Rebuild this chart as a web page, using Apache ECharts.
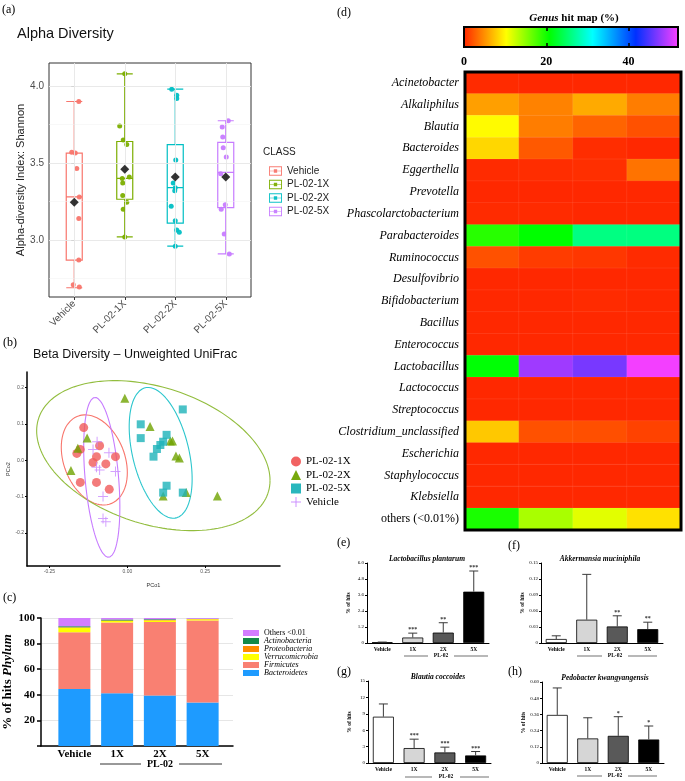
<!DOCTYPE html>
<html><head><meta charset="utf-8">
<script src="https://cdn.jsdelivr.net/npm/echarts@6.0.0/dist/echarts.min.js"></script>
<style>html,body{margin:0;padding:0;background:#fff;}#chart{width:685px;height:781px;}</style>
</head><body><div id="chart"></div>
<script>
// ================= DATA =================
// (a) Alpha diversity (Shannon)
const alphaClasses = ['Vehicle', 'PL-02-1X', 'PL-02-2X', 'PL-02-5X'];
const alphaBoxStats = [          // [lower whisker, Q1, median, Q3, upper whisker]
  [2.69, 2.87, 3.28, 3.565, 3.90],
  [3.02, 3.265, 3.40, 3.64, 4.08],
  [2.96, 3.11, 3.34, 3.62, 3.98],
  [2.91, 3.21, 3.44, 3.635, 3.775]
];
const alphaMeans = [3.245, 3.46, 3.41, 3.41];
const alphaPointsVehicle = [3.90, 3.57, 3.565, 3.465, 3.28, 3.14, 2.87, 2.71, 2.695];
const alphaPoints1X = [4.08, 3.74, 3.65, 3.62, 3.41, 3.40, 3.37, 3.29, 3.245, 3.20, 3.02];
const alphaPoints2X = [3.98, 3.94, 3.92, 3.52, 3.37, 3.34, 3.32, 3.22, 3.125, 3.065, 3.05, 2.96];
const alphaPoints5X = [3.775, 3.735, 3.67, 3.60, 3.54, 3.43, 3.23, 3.20, 3.04, 2.91];
const alphaJitterVehicle = [0.09, -0.05, 0.02, 0.05, 0.10, 0.09, 0.09, -0.02, 0.10];
const alphaJitter1X = [0.0, -0.10, -0.03, 0.04, 0.09, -0.05, -0.04, -0.04, 0.04, -0.03, 0.0];
const alphaJitter2X = [-0.07, 0.03, 0.03, 0.01, -0.04, 0.0, -0.01, -0.08, 0.0, 0.03, 0.08, 0.0];
const alphaJitter5X = [0.05, -0.07, -0.06, -0.05, 0.01, -0.10, -0.01, -0.09, -0.03, 0.07];
const alphaYTicks = [3.0, 3.5, 4.0];
const alphaYMinor = [2.75, 3.25, 3.75];

// (b) Beta diversity PCoA (PCo1, PCo2)
const betaGroups = ['PL-02-1X', 'PL-02-2X', 'PL-02-5X', 'Vehicle'];
const beta1X = [[-0.140, 0.090], [-0.151, 0.030], [-0.162, 0.019], [-0.151, -0.061], [-0.110, -0.006], [-0.099, 0.010], [-0.089, 0.040], [-0.099, -0.061], [-0.069, -0.010], [-0.058, -0.080], [-0.038, 0.010]];
const beta2X = [[-0.008, 0.171], [-0.129, 0.061], [-0.159, 0.033], [-0.181, -0.028], [0.073, 0.093], [0.138, 0.053], [0.145, 0.053], [0.156, 0.012], [0.167, 0.006], [0.115, -0.098], [0.189, -0.089], [0.289, -0.098]];
const beta5X = [[0.178, 0.140], [0.043, 0.099], [0.043, 0.061], [0.126, 0.070], [0.115, 0.051], [0.106, 0.042], [0.095, 0.031], [0.084, 0.010], [0.126, -0.070], [0.115, -0.089], [0.178, -0.089]];
const betaVehicle = [[-0.097, 0.051], [-0.110, 0.030], [-0.059, 0.021], [-0.099, -0.019], [-0.089, -0.027], [-0.038, -0.031], [-0.078, -0.100], [-0.078, -0.160], [-0.069, -0.169]];
// confidence ellipses: centre, half-extents, correlation
const betaEllipseCx = [-0.106, 0.0835, 0.107, -0.082];
const betaEllipseCy = [0.001, 0.0128, 0.0205, -0.047];
const betaEllipseRx = [0.106, 0.3745, 0.101, 0.058];
const betaEllipseRy = [0.124, 0.2064, 0.180, 0.220];
const betaEllipseCorr = [-0.28, -0.33, -0.40, -0.37];
const betaXTicks = [-0.25, 0, 0.25];
const betaYTicks = [-0.2, -0.1, 0, 0.1, 0.2];

// (c) Phylum composition (% of hits)
const phylumGroups = ['Vehicle', '1X', '2X', '5X'];
const phylumNames = ['Bacteroidetes', 'Firmicutes', 'Verrucomicrobia', 'Proteobacteria', 'Actinobacteria', 'Others <0.01'];
const phylumBacteroidetes = [44.5, 41.3, 39.4, 34.0];
const phylumFirmicutes = [44.3, 55.2, 57.4, 64.0];
const phylumVerrucomicrobia = [3.5, 1.2, 1.3, 1.0];
const phylumProteobacteria = [0.4, 0.3, 0.3, 0.3];
const phylumActinobacteria = [0.8, 0.8, 0.6, 0.2];
const phylumOthers = [6.5, 1.2, 1.0, 0.5];

// (d) Genus hit map (%)
const genusColumns = ['Vehicle', '1X', '2X', '5X'];
const genera = ['Acinetobacter', 'Alkaliphilus', 'Blautia', 'Bacteroides', 'Eggerthella', 'Prevotella', 'Phascolarctobacterium', 'Parabacteroides', 'Ruminococcus', 'Desulfovibrio', 'Bifidobacterium', 'Bacillus', 'Enterococcus', 'Lactobacillus', 'Lactococcus', 'Streptococcus', 'Clostridium_unclassified', 'Escherichia', 'Staphylococcus', 'Klebsiella', 'others (<0.01%)'];
const genusVehicle = [0.4, 5.9, 10.2, 8.5, 0.4, 0.3, 0.4, 19.2, 2.2, 0.3, 0.3, 0.3, 0.3, 21.0, 0.3, 0.3, 7.8, 0.3, 0.3, 0.3, 19.8];
const genus1X = [0.3, 4.5, 4.3, 2.6, 0.5, 0.3, 0.4, 20.8, 1.2, 0.3, 0.3, 0.3, 0.3, 48.1, 0.3, 0.3, 2.2, 0.3, 0.3, 0.3, 13.9];
const genus2X = [0.3, 6.4, 3.1, 0.5, 0.6, 0.3, 0.3, 26.1, 1.0, 0.3, 0.4, 0.3, 0.3, 46.5, 0.3, 0.3, 2.1, 0.3, 0.3, 0.3, 11.6];
const genus5X = [0.3, 4.3, 2.2, 0.3, 3.8, 0.3, 0.3, 26.0, 0.4, 0.3, 0.3, 0.3, 0.3, 51.5, 0.3, 0.3, 1.5, 0.3, 0.3, 0.3, 9.0];
const heatMin = 0, heatMax = 52;
const heatTicks = [0, 20, 40];

// (e)-(h) species % of hits (mean, SD) and significance
const speciesGroups = ['Vehicle', '1X', '2X', '5X'];
const lpMean = [0.05, 0.41, 0.78, 3.85];
const lpErr = [0.02, 0.33, 0.74, 1.55];
const lpStars = ['', '***', '**', '***'];
const amMean = [0.0075, 0.0437, 0.031, 0.026];
const amErr = [0.006, 0.085, 0.020, 0.013];
const amStars = ['', '', '**', '**'];
const bcMean = [8.47, 2.73, 1.93, 1.38];
const bcErr = [2.33, 1.63, 0.97, 0.72];
const bcStars = ['', '***', '***', '***'];
const pkMean = [0.356, 0.182, 0.201, 0.174];
const pkErr = [0.20, 0.153, 0.142, 0.10];
const pkStars = ['', '', '*', '*'];

// ================= STYLE =================
const SANS = "'Liberation Sans', Arial, sans-serif";
const SERIF = "'Liberation Serif', 'Times New Roman', serif";
const alphaColors = ['#F8766D', '#7CAE00', '#00BFC4', '#C77CFF'];
const betaColors = ['#F05A5A', '#6FA300', '#1DB3B9', '#C98BFF'];
const ellipseColors = ['#F8766D', '#92BD3E', '#2CC6CD', '#C77CFF'];
const phylumColors = ['#1E9BFF', '#F98072', '#FFFF00', '#FF8C00', '#138A4A', '#D37DFF'];
const heatColors = ['#ff2200', '#ffff00', '#00ff00', '#00ffff', '#0030ff', '#ff40ff'];
const barFills = ['#ffffff', '#d6d6d6', '#595959', '#000000'];
const boxIcon = 'path://M0,0H14V1H0Z M0,9H14V10H0Z M0,0H1V10H0Z M13,0H14V10H13Z M0,4.6H14V5.4H0Z M5.2,3.2H8.8V6.8H5.2Z';
const crossIcon = 'path://M4.5,0H5.5V4.5H10V5.5H5.5V10H4.5V5.5H0V4.5H4.5Z';

// ================= BUILD =================
const alphaPoints = [alphaPointsVehicle, alphaPoints1X, alphaPoints2X, alphaPoints5X];
const alphaJitter = [alphaJitterVehicle, alphaJitter1X, alphaJitter2X, alphaJitter5X];
const betaData = [beta1X, beta2X, beta5X, betaVehicle];
const betaSymbols = ['circle', 'triangle', 'rect', crossIcon];
const betaSizes = [9, 9, 8, 10];
const phylumValues = [phylumBacteroidetes, phylumFirmicutes, phylumVerrucomicrobia, phylumProteobacteria, phylumActinobacteria, phylumOthers];
const genusCols = [genusVehicle, genus1X, genus2X, genus5X];

const grids = [
  {left: 49, top: 63, width: 202, height: 234, show: true, borderColor: '#333', borderWidth: 1, backgroundColor: '#fff'}, // 0 (a)
  {left: 27, top: 372, width: 253, height: 194},   // 1 (b)
  {left: 53, top: 618, width: 171, height: 128},   // 2 (c) bars
  {left: 41, top: 618, width: 192, height: 128},   // 3 (c) axes
  {left: 465, top: 72, width: 216, height: 458},   // 4 (d) heatmap
  {left: 464, top: 27, width: 214, height: 20},    // 5 (d) colour bar
  {left: 367, top: 563, width: 122, height: 80},   // 6 (e)
  {left: 541, top: 563, width: 122, height: 80},   // 7 (f)
  {left: 368, top: 681, width: 123, height: 82},   // 8 (g)
  {left: 542, top: 682, width: 122, height: 81}    // 9 (h)
];

const xAxes = [];
const yAxes = [];
const AX = {};
const AY = {};
// (a)
AX.aCat = xAxes.length;
xAxes.push({gridIndex: 0, type: 'category', data: alphaClasses, axisLine: {show: false},
  axisTick: {show: true, alignWithLabel: true, length: 3, lineStyle: {color: '#333'}},
  axisLabel: {interval: 0, rotate: 45, color: '#4d4d4d', fontSize: 10, fontFamily: SANS, margin: 5}, splitLine: {show: false}});
AX.aJit = xAxes.length;
xAxes.push({gridIndex: 0, type: 'value', min: -0.5, max: 3.5, show: false});
AY.a = yAxes.length;
yAxes.push({gridIndex: 0, type: 'value', min: 2.63, max: 4.15, axisLine: {show: false},
  axisTick: {show: true, customValues: alphaYTicks, length: 3, lineStyle: {color: '#333'}},
  axisLabel: {customValues: alphaYTicks, formatter: v => v.toFixed(1), color: '#4d4d4d', fontSize: 10, fontFamily: SANS, margin: 5},
  splitLine: {show: false}, name: 'Alpha-diversity Index: Shannon', nameLocation: 'middle', nameGap: 23,
  nameTextStyle: {fontSize: 11, color: '#222', fontFamily: SANS}});
// (b)
AX.b = xAxes.length;
xAxes.push({gridIndex: 1, type: 'value', min: -0.322, max: 0.49, axisLine: {onZero: false, lineStyle: {color: '#000', width: 1.5}},
  axisTick: {customValues: betaXTicks, length: 2, lineStyle: {color: '#000'}},
  axisLabel: {customValues: betaXTicks, formatter: v => v.toFixed(2), fontSize: 5, color: '#555', margin: 3, fontFamily: SANS},
  splitLine: {show: false}, name: 'PCo1', nameLocation: 'middle', nameGap: 16, nameTextStyle: {fontSize: 5.5, color: '#333', fontFamily: SANS}});
AY.b = yAxes.length;
yAxes.push({gridIndex: 1, type: 'value', min: -0.291, max: 0.243, axisLine: {onZero: false, lineStyle: {color: '#000', width: 1.5}},
  axisTick: {customValues: betaYTicks, length: 2, lineStyle: {color: '#000'}},
  axisLabel: {customValues: betaYTicks, formatter: v => v.toFixed(1), fontSize: 5, color: '#555', margin: 3, fontFamily: SANS},
  splitLine: {show: false}, name: 'PCo2', nameLocation: 'middle', nameGap: 13, nameTextStyle: {fontSize: 5.5, color: '#333', fontFamily: SANS}});
// (c)
AX.cBars = xAxes.length;
xAxes.push({gridIndex: 2, type: 'category', data: phylumGroups, axisLine: {show: false}, axisTick: {show: false},
  axisLabel: {interval: 0, fontFamily: SERIF, fontWeight: 'bold', fontSize: 11, color: '#000', margin: 3}});
AX.cFrame = xAxes.length;
xAxes.push({gridIndex: 3, type: 'value', min: 0, max: 1, axisLine: {show: true, onZero: false, lineStyle: {color: '#000', width: 1.5}},
  axisTick: {show: false}, axisLabel: {show: false}, splitLine: {show: false}});
AY.cBars = yAxes.length;
yAxes.push({gridIndex: 2, type: 'value', min: 0, max: 100, show: false});
AY.cFrame = yAxes.length;
yAxes.push({gridIndex: 3, type: 'value', min: 0, max: 100, interval: 20, axisLine: {show: true, onZero: false, lineStyle: {color: '#000', width: 1.5}},
  axisTick: {show: true, length: 4, lineStyle: {color: '#000', width: 1.5}},
  axisLabel: {fontFamily: SERIF, fontWeight: 'bold', fontSize: 11, color: '#000', margin: 6, formatter: v => v === 0 ? '' : String(v)},
  splitLine: {show: true, lineStyle: {color: '#e6e6e6', width: 1}},
  name: '% of hits {i|Phylum}', nameLocation: 'middle', nameGap: 15,
  nameTextStyle: {fontFamily: SERIF, fontWeight: 'bold', fontSize: 13, color: '#000',
    rich: {i: {fontFamily: SERIF, fontWeight: 'bold', fontStyle: 'italic', fontSize: 13, color: '#000'}}}});
// (d)
AX.d = xAxes.length;
xAxes.push({gridIndex: 4, type: 'category', data: genusColumns, show: false});
AY.d = yAxes.length;
yAxes.push({gridIndex: 4, type: 'category', data: genera, inverse: true, axisLine: {show: false}, axisTick: {show: false},
  axisLabel: {interval: 0, fontFamily: SERIF, fontStyle: 'italic', fontSize: 12, color: '#000', margin: 6,
    formatter: v => v.indexOf('others') === 0 ? '{n|' + v + '}' : v,
    rich: {n: {fontFamily: SERIF, fontStyle: 'normal', fontSize: 12, color: '#000'}}}});
xAxes.push({gridIndex: 5, type: 'value', min: heatMin, max: heatMax, interval: 20, position: 'bottom', z: 10,
  axisLine: {show: false}, axisTick: {show: true, inside: true, length: 4, customValues: [20, 40], lineStyle: {color: '#000', width: 1.5}},
  axisLabel: {customValues: heatTicks, fontFamily: SERIF, fontWeight: 'bold', fontSize: 12, color: '#000', margin: 9},
  splitLine: {show: false}});
xAxes.push({gridIndex: 5, type: 'value', min: heatMin, max: heatMax, interval: 20, position: 'top', z: 10,
  axisLine: {show: false}, axisTick: {show: true, inside: true, length: 4, customValues: [20, 40], lineStyle: {color: '#000', width: 1.5}},
  axisLabel: {show: false}, splitLine: {show: false}});
yAxes.push({gridIndex: 5, type: 'value', min: 0, max: 1, show: false});

// (e)-(h)
const speciesPanels = [
  {g: 6, mean: lpMean, err: lpErr, stars: lpStars, max: 6, interval: 1.2, dec: 1},
  {g: 7, mean: amMean, err: amErr, stars: amStars, max: 0.15, interval: 0.03, dec: 2},
  {g: 8, mean: bcMean, err: bcErr, stars: bcStars, max: 15, interval: 3, dec: 0},
  {g: 9, mean: pkMean, err: pkErr, stars: pkStars, max: 0.60, interval: 0.12, dec: 2}
];
speciesPanels.forEach(p => {
  p.xi = xAxes.length;
  xAxes.push({gridIndex: p.g, type: 'category', data: speciesGroups, axisLine: {lineStyle: {color: '#000', width: 1}},
    axisTick: {show: false}, axisLabel: {interval: 0, fontFamily: SERIF, fontWeight: 'bold', fontSize: 5.5, color: '#000', margin: 4}});
  p.yi = yAxes.length;
  yAxes.push({gridIndex: p.g, type: 'value', min: 0, max: p.max, interval: p.interval,
    axisLine: {show: true, lineStyle: {color: '#000', width: 1}},
    axisTick: {show: true, length: 2, lineStyle: {color: '#000'}},
    axisLabel: {fontFamily: SERIF, fontSize: 5, color: '#000', margin: 3, formatter: v => v === 0 ? '0' : v.toFixed(p.dec)},
    splitLine: {show: false}, name: '% of hits', nameLocation: 'middle', nameGap: 15,
    nameTextStyle: {fontFamily: SERIF, fontWeight: 'bold', fontSize: 5.5, color: '#000'}});
});

const series = [];
// (a) grid lines (theme_bw) via markLine
series.push({type: 'line', name: 'grid-a', xAxisIndex: AX.aCat, yAxisIndex: AY.a, data: alphaMeans, symbol: 'none',
  lineStyle: {opacity: 0}, silent: true, z: 1, animation: false,
  markLine: {silent: true, symbol: ['none', 'none'], label: {show: false}, animation: false,
    data: [
      ...alphaYTicks.map(v => ({yAxis: v, lineStyle: {color: '#e6e6e6', width: 0.9, type: 'solid'}})),
      ...alphaYMinor.map(v => ({yAxis: v, lineStyle: {color: '#f1f1f1', width: 0.5, type: 'solid'}})),
      ...alphaClasses.map(c => ({xAxis: c, lineStyle: {color: '#e6e6e6', width: 0.9, type: 'solid'}}))
    ]}});
series.push({type: 'boxplot', name: 'box-a', xAxisIndex: AX.aCat, yAxisIndex: AY.a, boxWidth: [16, 16], z: 3,
  data: alphaBoxStats.map((b, i) => ({value: b, itemStyle: {color: 'rgba(255,255,255,0)', borderColor: alphaColors[i], borderWidth: 1.2}}))});
alphaClasses.forEach((c, i) => {
  series.push({type: 'scatter', name: c, xAxisIndex: AX.aJit, yAxisIndex: AY.a, symbolSize: 5, z: 4,
    itemStyle: {color: alphaColors[i], opacity: 0.95},
    data: alphaPoints[i].map((v, j) => [i + alphaJitter[i][j], v])});
});
series.push({type: 'scatter', name: 'Mean', xAxisIndex: AX.aCat, yAxisIndex: AY.a, symbol: 'diamond', symbolSize: 9, z: 5,
  itemStyle: {color: '#000'}, data: alphaMeans});

// (b) ellipses and points
betaGroups.forEach((g, i) => {
  const phi = Math.acos(betaEllipseCorr[i]);
  const pts = [];
  for (let k = 0; k <= 160; k++) {
    const t = 2 * Math.PI * k / 160;
    pts.push([betaEllipseCx[i] + betaEllipseRx[i] * Math.cos(t), betaEllipseCy[i] + betaEllipseRy[i] * Math.cos(t - phi)]);
  }
  series.push({type: 'line', name: 'ellipse ' + g, xAxisIndex: AX.b, yAxisIndex: AY.b, data: pts, showSymbol: false, symbol: 'none',
    smooth: false, lineStyle: {color: ellipseColors[i], width: 1.1}, z: 2, silent: true});
});
betaGroups.forEach((g, i) => {
  series.push({type: 'scatter', name: g, xAxisIndex: AX.b, yAxisIndex: AY.b, symbol: betaSymbols[i], symbolSize: betaSizes[i], z: 4,
    itemStyle: {color: betaColors[i]}, data: betaData[i]});
});

// (c) stacked bars
phylumNames.forEach((n, i) => {
  series.push({type: 'bar', name: n, stack: 'phylum', xAxisIndex: AX.cBars, yAxisIndex: AY.cBars, barWidth: 32,
    itemStyle: {color: phylumColors[i]}, data: phylumValues[i]});
});

// (d) heatmap
const heatData = [];
genusCols.forEach((col, ci) => col.forEach((v, ri) => heatData.push([ci, ri, v])));
const heatSeriesIndex = series.length;
series.push({type: 'heatmap', name: 'genus', xAxisIndex: AX.d, yAxisIndex: AY.d, data: heatData,
  itemStyle: {borderColor: 'rgba(255,255,255,0.13)', borderWidth: 0.6}, emphasis: {disabled: true}});

// (e)-(h) bars + error bars
speciesPanels.forEach(p => {
  series.push({type: 'bar', name: 'bars' + p.g, xAxisIndex: p.xi, yAxisIndex: p.yi, barWidth: 21, z: 2,
    itemStyle: {borderColor: '#000', borderWidth: 0.8},
    data: p.mean.map((m, i) => ({value: m, itemStyle: {color: barFills[i]}}))});
  series.push({type: 'custom', name: 'err' + p.g, xAxisIndex: p.xi, yAxisIndex: p.yi, z: 3,
    data: p.mean.map((m, i) => [i, m, m + p.err[i]]),
    renderItem: (params, api) => {
      const i = api.value(0);
      const a = api.coord([i, api.value(1)]);
      const b = api.coord([i, api.value(2)]);
      const hw = 4.5;
      const children = [
        {type: 'line', shape: {x1: a[0], y1: a[1], x2: b[0], y2: b[1]}, style: {stroke: '#3a3a3a', lineWidth: 1}},
        {type: 'line', shape: {x1: b[0] - hw, y1: b[1], x2: b[0] + hw, y2: b[1]}, style: {stroke: '#3a3a3a', lineWidth: 1}}
      ];
      const s = p.stars[params.dataIndex];
      if (s) children.push({type: 'text', x: b[0], y: b[1] - 0.5,
        style: {text: s, align: 'center', verticalAlign: 'bottom', textAlign: 'center', textVerticalAlign: 'bottom',
          fontSize: 6, fontWeight: 'bold', fontFamily: SERIF, fill: '#333'}});
      return {type: 'group', children};
    }});
});

// ================= ANNOTATIONS =================
function T(x, y, text, o) {
  o = o || {};
  const align = o.align || 'left';
  const va = o.verticalAlign || 'top';
  return {type: 'text', x, y, z: 50, silent: true,
    style: Object.assign({text, fill: '#000', fontFamily: SERIF, fontSize: 12}, o,
      {align, verticalAlign: va, textAlign: align, textVerticalAlign: va})};
}
function L(x1, y1, x2, y2, w, c) {
  return {type: 'line', z: 50, silent: true, shape: {x1, y1, x2, y2}, style: {stroke: c || '#333', lineWidth: w || 1}};
}
function groupMark(yy, l1, l2, tx, r1, r2, fs, w) {
  return [L(l1, yy, l2, yy, w), T(tx, yy, 'PL-02', {align: 'center', verticalAlign: 'middle', fontWeight: 'bold', fontSize: fs}), L(r1, yy, r2, yy, w)];
}
const graphics = [
  T(2, 4, '(a)', {fontSize: 12}),
  T(17, 26, 'Alpha Diversity', {fontFamily: SANS, fontSize: 14.5, fill: '#111'}),
  T(263, 147, 'CLASS', {fontFamily: SANS, fontSize: 10, fill: '#222'}),
  T(3, 337, '(b)', {fontSize: 12}),
  T(33, 348, 'Beta Diversity \u2013 Unweighted UniFrac', {fontFamily: SANS, fontSize: 12.5, fill: '#111'}),
  T(3, 592, '(c)', {fontSize: 12}),
  T(337, 7, '(d)', {fontSize: 12}),
  T(574, 13, '{i|Genus} hit map (%)', {align: 'center', fontWeight: 'bold', fontSize: 11,
    rich: {i: {fontStyle: 'italic', fontWeight: 'bold', fontSize: 11, fontFamily: SERIF}}}),
  T(337, 537, '(e)', {fontSize: 12}),
  T(508, 540, '(f)', {fontSize: 12}),
  T(337, 666, '(g)', {fontSize: 12}),
  T(508, 666, '(h)', {fontSize: 12}),
  T(427, 555, 'Lactobacillus plantarum', {align: 'center', fontWeight: 'bold', fontStyle: 'italic', fontSize: 7.5}),
  T(600, 555, 'Akkermansia muciniphila', {align: 'center', fontWeight: 'bold', fontStyle: 'italic', fontSize: 7.5}),
  T(438, 673, 'Blautia coccoides', {align: 'center', fontWeight: 'bold', fontStyle: 'italic', fontSize: 7.5}),
  T(605, 674, 'Pedobacter kwangyangensis', {align: 'center', fontWeight: 'bold', fontStyle: 'italic', fontSize: 7.5}),
  ...groupMark(764, 100, 141, 160, 179, 222, 10, 1),
  ...groupMark(656, 404, 428, 441, 454, 488, 5.5, 0.7),
  ...groupMark(656, 577, 602, 615, 628, 657, 5.5, 0.7),
  ...groupMark(777, 405, 432, 446, 460, 489, 5.5, 0.7),
  ...groupMark(776, 577, 602, 615, 628, 657, 5.5, 0.7),
  // colour bar & heatmap frame
  {type: 'rect', z: -10, silent: true, shape: {x: 464, y: 27, width: 214, height: 20},
    style: {fill: {type: 'linear', x: 0, y: 0, x2: 1, y2: 0, colorStops: heatColors.map((c, i) => ({offset: i / (heatColors.length - 1), color: c}))},
      stroke: '#000', lineWidth: 2}},
  {type: 'rect', z: 60, silent: true, shape: {x: 465, y: 72, width: 216, height: 458}, style: {fill: 'none', stroke: '#000', lineWidth: 3}}
];

const option = {
  animation: false,
  backgroundColor: '#fff',
  grid: grids,
  xAxis: xAxes,
  yAxis: yAxes,
  visualMap: {type: 'continuous', min: heatMin, max: heatMax, show: false, seriesIndex: heatSeriesIndex, inRange: {color: heatColors}},
  legend: [
    {left: 264, top: 161, orient: 'vertical', itemWidth: 13, itemHeight: 10, itemGap: 3.5, selectedMode: false,
      data: alphaClasses.map((n, i) => ({name: n, icon: boxIcon, itemStyle: {color: alphaColors[i]}})),
      textStyle: {fontFamily: SANS, fontSize: 10, color: '#222'}},
    {left: 286, top: 451, orient: 'vertical', itemWidth: 10, itemHeight: 10, itemGap: 2.5, selectedMode: false,
      data: betaGroups.map((n, i) => ({name: n, icon: i === 3 ? crossIcon : betaSymbols[i], itemStyle: {color: betaColors[i]}})),
      textStyle: {fontFamily: SERIF, fontSize: 11, color: '#000'}},
    {left: 238, top: 624, orient: 'vertical', itemWidth: 16, itemHeight: 6, itemGap: 0, selectedMode: false,
      data: phylumNames.slice().reverse().map(n => ({name: n, icon: 'rect',
        textStyle: n.indexOf('Others') === 0 ? {fontStyle: 'normal'} : {fontStyle: 'italic'}})),
      textStyle: {fontFamily: SERIF, fontSize: 8, color: '#000', lineHeight: 8}}
  ],
  graphic: graphics,
  series
};
const chart = echarts.init(document.getElementById('chart'), null, {renderer: 'canvas', width: 685, height: 781});
chart.setOption(option);
</script></body></html>
